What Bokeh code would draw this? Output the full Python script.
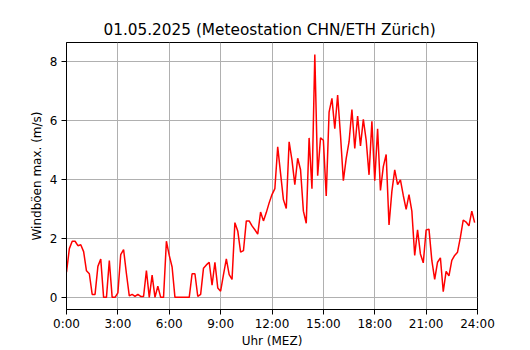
from bokeh.plotting import figure
from bokeh.models import FixedTicker, Range1d
from bokeh.embed import file_html
from bokeh.resources import INLINE

# Wind gusts (max) every 10 minutes, 0:00 .. 23:50, m/s
gust_ms = [
    0.85, 1.65, 1.9, 1.9, 1.75, 1.78, 1.55, 0.9, 0.8, 0.1, 0.1, 1.05,
    1.3, 0.0, 0.0, 1.25, 0.0, 0.0, 0.15, 1.45, 1.62, 0.8, 0.05,
    0.1, 0.03, 0.1, 0.03, 0.03, 0.91, 0.0, 0.75, 0.0, 0.38, 0.0, 0.0,
    1.9, 1.42, 1.03, 0.0, 0.0, 0.0, 0.0, 0.0, 0.0, 0.8, 0.8, 0.03, 0.1,
    0.99, 1.1, 1.19, 0.41, 1.19, 0.32, 0.21, 0.77, 1.3, 0.77, 0.61, 2.53,
    2.25, 1.53, 1.58, 2.59, 2.59, 2.42, 2.29, 2.14, 2.89, 2.59, 2.87,
    3.2, 3.48, 3.68, 5.1, 4.2, 3.31, 3.01, 5.27, 4.65, 3.82, 4.71, 4.32,
    2.92, 2.51, 5.4, 3.68, 8.22, 4.12, 5.4, 5.32, 3.43, 6.27, 6.74, 5.71,
    6.85, 5.49, 3.95, 4.71, 5.27, 6.36, 5.04, 6.14, 5.13, 6.03, 5.32, 4.15,
    5.96, 3.95, 5.71, 3.62, 4.43, 4.84, 2.45, 3.59, 4.32, 3.82, 3.98, 3.45,
    2.98, 3.48, 2.92, 1.42, 2.29, 1.47, 1.17, 2.28, 2.31, 1.25, 0.61, 1.19,
    1.34, 0.19, 0.88, 0.73, 1.25, 1.42, 1.53, 2.03, 2.62, 2.55, 2.42, 2.92,
    2.53,
]
step_minutes = 10
hours = [i * step_minutes / 60 for i in range(len(gust_ms))]

x_ticks = [0, 3, 6, 9, 12, 15, 18, 21, 24]
x_tick_labels = ["0:00", "3:00", "6:00", "9:00", "12:00", "15:00", "18:00", "21:00", "24:00"]
y_ticks = [0, 2, 4, 6, 8]

title_text = "01.05.2025  (Meteostation CHN/ETH Zürich)"
x_label = "Uhr (MEZ)"
y_label = "Windböen max. (m/s)"

FONT = "DejaVu Sans"

p = figure(width=530, height=350, output_backend="svg", toolbar_location=None,
           x_range=Range1d(0, 24), y_range=Range1d(-0.411, 8.631),
           min_border_left=66, min_border_right=53,
           min_border_top=42, min_border_bottom=38)

p.title.text = title_text
p.title.align = "center"
p.title.text_font = FONT
p.title.text_font_size = "15.3px"
p.title.text_font_style = "normal"
p.title.text_color = "black"
p.title.standoff = 7

p.line(hours, gust_ms, color="red", line_width=1.5)

for ax, ticks in ((p.xaxis[0], x_ticks), (p.yaxis[0], y_ticks)):
    ax.ticker = FixedTicker(ticks=ticks)
    ax.major_tick_out = 5
    ax.major_tick_in = 0
    ax.minor_tick_out = 0
    ax.minor_tick_in = 0
    ax.axis_line_color = "black"
    ax.major_tick_line_color = "black"
    ax.major_label_text_font = FONT
    ax.major_label_text_font_size = "12px"
    ax.major_label_text_color = "black"
    ax.axis_label_text_font = FONT
    ax.axis_label_text_font_size = "12px"
    ax.axis_label_text_font_style = "normal"
    ax.axis_label_text_color = "black"

p.xaxis[0].major_label_standoff = 2
p.xaxis[0].axis_label_standoff = 0
p.yaxis[0].major_label_standoff = 4
p.yaxis[0].axis_label_standoff = 3

p.xaxis[0].major_label_overrides = {t: l for t, l in zip(x_ticks, x_tick_labels)}
p.xaxis[0].axis_label = x_label
p.yaxis[0].axis_label = y_label

p.xgrid.ticker = FixedTicker(ticks=x_ticks)
p.ygrid.ticker = FixedTicker(ticks=y_ticks)
for g in (p.xgrid[0], p.ygrid[0]):
    g.grid_line_color = "#b0b0b0"
    g.grid_line_width = 1

p.outline_line_color = "black"
p.outline_line_width = 1
p.outline_line_alpha = 1
p.background_fill_color = "white"
p.border_fill_color = "white"

open("out.html", "w").write(file_html(p, INLINE))
